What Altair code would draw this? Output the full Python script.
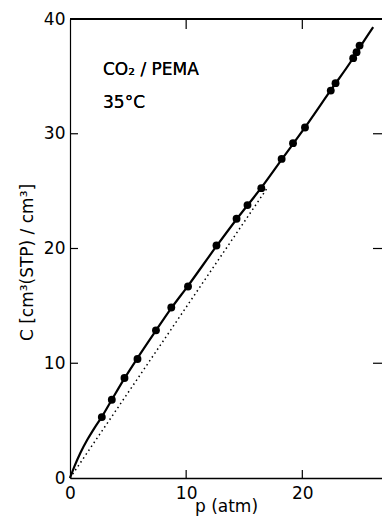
import altair as alt
import pandas as pd

# observed sorption data (CO2 / PEMA, 35 C)
p_obs = [2.74, 3.60, 4.69, 5.81, 7.40, 8.72, 10.16, 12.61, 14.34, 15.28, 16.47,
         18.22, 19.20, 20.23, 22.45, 22.86, 24.38, 24.67, 24.93]
C_obs = [5.31, 6.82, 8.71, 10.37, 12.87, 14.86, 16.69, 20.26, 22.59, 23.78, 25.26,
         27.81, 29.18, 30.54, 33.76, 34.41, 36.59, 37.11, 37.68]

# solid fitted curve
p_fit = [0, 0.4, 0.9, 1.5, 2.1, 2.74, 3.6, 4.69, 5.81, 7.4, 8.72, 10.16, 12.61,
         14.34, 16.47, 18.22, 20.23, 22.45, 24.38, 24.93, 26.1]
C_fit = [0, 1.05, 2.2, 3.35, 4.35, 5.33, 6.82, 8.68, 10.45, 12.85, 14.8, 16.75, 20.2,
         22.55, 25.3, 27.75, 30.55, 33.8, 36.6, 37.5, 39.3]

# dotted straight line
p_lin = [0, 17.0]
C_lin = [0, 25.3]

x_label_vals = [0, 10, 20]
y_label_vals = [0, 10, 20, 30, 40]
x_tick_vals = [10, 20]
y_tick_vals = [10, 20, 30]

W, H = 312, 459
FONT = "DejaVu Sans"
FS = 17

obs = pd.DataFrame({"p": p_obs, "C": C_obs})
fit = pd.DataFrame({"p": p_fit, "C": C_fit})
lin = pd.DataFrame({"p": p_lin, "C": C_lin})
xt = pd.DataFrame({"p": x_tick_vals})
yt = pd.DataFrame({"C": y_tick_vals})

xscale = alt.Scale(domain=[0, 26.86], nice=False, zero=False)
yscale = alt.Scale(domain=[0, 40], nice=False)

x_axis = alt.Axis(values=x_label_vals, grid=False, ticks=False, tickSize=0,
                  labelPadding=7, labelFontSize=FS, labelFont=FONT, labelColor="black",
                  labelFlush=False, labelOverlap=False, format="d",
                  domainColor="black", domainWidth=1.6,
                  title="p (atm)", titleFont=FONT, titleFontSize=FS,
                  titleFontWeight="normal", titleColor="black",
                  titleX=156, titleY=33, titleBaseline="alphabetic", titleAlign="center")
y_axis = alt.Axis(values=y_label_vals, grid=False, ticks=False, tickSize=0,
                  labelPadding=5, labelFontSize=FS, labelFont=FONT, labelColor="black",
                  labelFlush=False, labelOverlap=False, format="d",
                  domainColor="black", domainWidth=1.2,
                  title="C  [cm³(STP) / cm³]", titleFont=FONT, titleFontSize=FS,
                  titleFontWeight="normal", titleColor="black", titleAngle=270,
                  titleX=-43, titleY=243, titleBaseline="middle", titleAlign="center")

X = alt.X("p:Q", scale=xscale, axis=x_axis)
Y = alt.Y("C:Q", scale=yscale, axis=y_axis)

curve = alt.Chart(fit).mark_line(color="black", strokeWidth=2.2, interpolate="monotone").encode(
    x=X, y=Y, order="p:Q")
dotted = alt.Chart(lin).mark_line(color="black", strokeWidth=1.5, strokeDash=[1.5, 3.2]).encode(
    x=X, y=Y)
points = alt.Chart(obs).mark_point(filled=True, color="black", size=62, opacity=1, shape="circle").encode(
    x=X, y=Y)

top_frame = alt.Chart(xt).mark_rule(color="black", strokeWidth=1.8).encode(
    x=alt.value(0), x2=alt.value(W), y=alt.value(0))
bottom_ticks = alt.Chart(xt).mark_rule(color="black", strokeWidth=1.2).encode(
    x=X, y=alt.value(H), y2=alt.value(H - 8))
top_ticks = alt.Chart(xt).mark_rule(color="black", strokeWidth=1.2).encode(
    x=X, y=alt.value(0), y2=alt.value(10))
left_ticks = alt.Chart(yt).mark_rule(color="black", strokeWidth=1.2).encode(
    y=Y, x=alt.value(0), x2=alt.value(8))
right_ticks = alt.Chart(yt).mark_rule(color="black", strokeWidth=1.2).encode(
    y=Y, x=alt.value(W), x2=alt.value(W - 9))

label1 = alt.Chart(xt).mark_text(align="left", baseline="alphabetic", fontSize=FS, font=FONT,
                                 fontWeight="normal", color="black").encode(
    x=alt.value(33), y=alt.value(56), text=alt.value("CO₂ / PEMA"))
label2 = alt.Chart(xt).mark_text(align="left", baseline="alphabetic", fontSize=FS, font=FONT,
                                 fontWeight="normal", color="black").encode(
    x=alt.value(33), y=alt.value(89), text=alt.value("35°C"))

chart = alt.layer(
    curve, dotted, points, top_frame, bottom_ticks, top_ticks, left_ticks, right_ticks,
    label1, label2
).properties(
    width=W, height=H,
    padding={"left": 62, "top": 11, "right": 0, "bottom": 39},
    autosize="none",
).configure_view(stroke=None).configure(background="white")

chart.save("out.html", embed_options={"renderer": "svg", "actions": False})
